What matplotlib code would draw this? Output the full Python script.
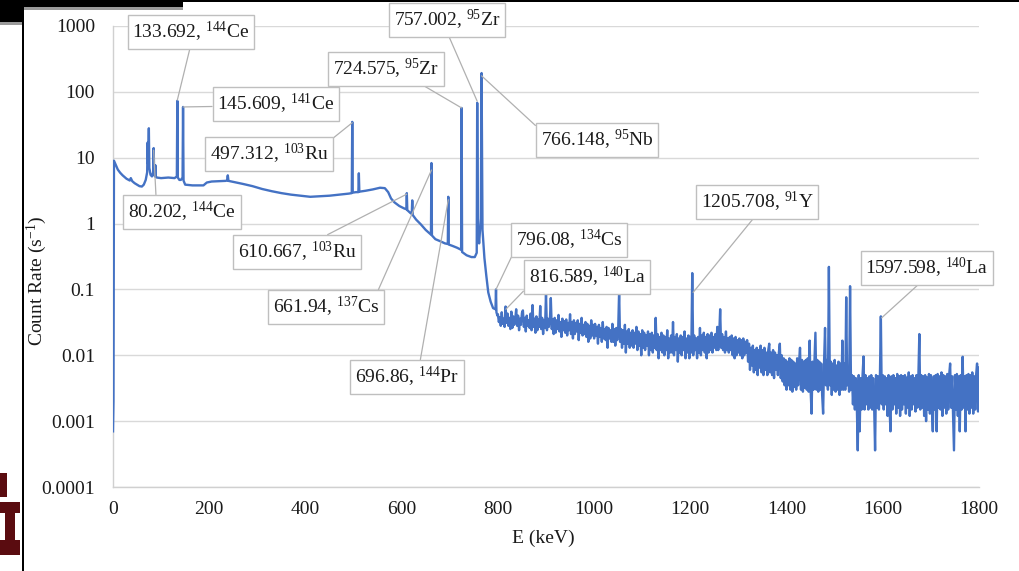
#!/usr/bin/env python3
"""Gamma spectrum (count rate vs energy) with labelled peaks, log y axis."""

import numpy as np
import matplotlib

matplotlib.use("Agg")
import matplotlib.pyplot as plt
from matplotlib.patches import Rectangle

# ---- data ----------------------------------------------------------------
# 0-800 keV: smooth continuum with narrow peaks (keV, counts/s)
low_energy = [0, 1, 2, 5, 10, 15, 20, 28, 35, 37, 40, 45, 50, 55, 60, 64, 68,
              71, 72, 73, 74.5, 75.5, 78, 81, 83.5, 84.5, 85.5, 87.2, 88, 88.8,
              91, 100, 115, 128, 132.7, 133.7, 134.7, 138, 141, 144.6, 145.6,
              146.6, 150, 165, 180, 188, 195, 205, 220, 234, 237, 238.6, 240,
              250, 270, 290, 310, 330, 350, 370, 390, 410, 430, 450, 470, 490,
              496.3, 497.3, 498.3, 505, 510, 511, 512, 525, 540, 555, 565, 572,
              578, 585, 595, 605, 609.7, 610.7, 611.7, 618, 621, 622, 623, 630,
              640, 650, 660.9, 661.9, 662.9, 670, 680, 690, 695.9, 696.9, 697.9,
              705, 715, 723.6, 724.6, 725.6, 735, 745, 752, 756, 757, 758.5,
              761, 764.5, 766.1, 768, 772, 776, 780, 785, 790, 795, 796.1, 797,
              799]
low_rate = [0.0007, 0.002, 9.0, 8.0, 6.6, 5.9, 5.4, 4.8, 4.5, 4.9, 4.4, 4.1,
            3.9, 3.7, 3.65, 3.9, 4.6,
            6.0, 17, 8, 28, 7, 5.5, 5.2, 6, 14, 6, 5.2, 7.7, 5.2,
            5.0, 4.9, 5.0, 4.9, 5.2, 73, 5, 4.6, 4.6, 5, 59,
            4.5, 3.9, 3.8, 3.8, 3.8, 4.2, 4.35, 4.4, 4.45, 4.5, 5.4, 4.45,
            4.3, 4.0, 3.7, 3.35, 3.1, 2.9, 2.75, 2.65, 2.55, 2.6, 2.65, 2.75, 2.85,
            2.9, 35, 2.95, 3.0, 3.0, 5.8, 3.05, 3.15, 3.3, 3.5, 3.45, 3.0,
            2.4, 2.1, 1.85, 1.7, 1.65, 2.9, 1.6, 1.45, 1.4, 2.25, 1.35, 1.15,
            0.97, 0.8, 0.68, 8.3, 0.66, 0.58, 0.54, 0.5, 0.49, 2.55, 0.48,
            0.46, 0.43, 0.4, 57, 0.37, 0.33, 0.31, 0.31, 0.36, 68, 0.9,
            0.5, 1.2, 193, 0.8, 0.3, 0.16, 0.09, 0.065, 0.052, 0.05, 0.10, 0.045,
            0.04]

# 800-1800 keV: noisy part, one value every 2 keV (20 values per row = 40 keV)
high_energy = np.arange(800, 1801, 2)
high_rate = [
    0.042, 0.032, 0.038, 0.028, 0.045, 0.030, 0.036, 0.027, 0.055, 0.031,
    0.043, 0.028, 0.037, 0.025, 0.046, 0.026, 0.039, 0.029, 0.035, 0.050,   # 800
    0.028, 0.040, 0.024, 0.036, 0.029, 0.044, 0.048, 0.027, 0.037, 0.023,
    0.040, 0.028, 0.034, 0.026, 0.043, 0.024, 0.058, 0.027, 0.036, 0.022,   # 840
    0.039, 0.024, 0.035, 0.027, 0.056, 0.025, 0.037, 0.021, 0.034, 0.026,
    0.085, 0.024, 0.036, 0.027, 0.033, 0.074, 0.025, 0.035, 0.021, 0.037,   # 880
    0.022, 0.034, 0.025, 0.041, 0.023, 0.032, 0.019, 0.036, 0.024, 0.033,
    0.022, 0.035, 0.020, 0.031, 0.024, 0.042, 0.021, 0.032, 0.018, 0.034,   # 920
    0.021, 0.031, 0.023, 0.034, 0.017, 0.030, 0.022, 0.037, 0.020, 0.029,
    0.021, 0.032, 0.019, 0.030, 0.016, 0.028, 0.018, 0.034, 0.020, 0.029,   # 960
    0.018, 0.030, 0.020, 0.027, 0.015, 0.029, 0.019, 0.026, 0.016, 0.032,
    0.018, 0.025, 0.017, 0.027, 0.013, 0.026, 0.018, 0.024, 0.016, 0.030,   # 1000
    0.016, 0.025, 0.014, 0.026, 0.017, 0.024, 0.094, 0.016, 0.025, 0.013,
    0.024, 0.015, 0.029, 0.011, 0.023, 0.015, 0.025, 0.013, 0.022, 0.014,   # 1040
    0.024, 0.013, 0.022, 0.015, 0.027, 0.012, 0.023, 0.014, 0.021, 0.010,
    0.024, 0.013, 0.022, 0.012, 0.020, 0.014, 0.023, 0.010, 0.021, 0.012,   # 1080
    0.022, 0.011, 0.020, 0.013, 0.037, 0.012, 0.021, 0.009, 0.019, 0.012,
    0.022, 0.011, 0.020, 0.010, 0.019, 0.012, 0.024, 0.009, 0.018, 0.011,   # 1120
    0.020, 0.011, 0.032, 0.010, 0.019, 0.012, 0.021, 0.008, 0.018, 0.011,
    0.020, 0.010, 0.019, 0.012, 0.023, 0.009, 0.018, 0.011, 0.020, 0.009,   # 1160
    0.019, 0.011, 0.177, 0.010, 0.020, 0.012, 0.018, 0.009, 0.019, 0.011,
    0.026, 0.010, 0.020, 0.012, 0.022, 0.011, 0.019, 0.009, 0.021, 0.011,   # 1200
    0.020, 0.012, 0.022, 0.011, 0.019, 0.013, 0.021, 0.012, 0.027, 0.012,
    0.020, 0.050, 0.013, 0.021, 0.012, 0.019, 0.011, 0.023, 0.012, 0.018,   # 1240
    0.011, 0.019, 0.012, 0.020, 0.010, 0.018, 0.009, 0.019, 0.010, 0.017,
    0.011, 0.018, 0.010, 0.017, 0.009, 0.018, 0.010, 0.016, 0.011, 0.017,   # 1280
    0.008, 0.015, 0.006, 0.013, 0.007, 0.014, 0.0055, 0.012, 0.006, 0.013,
    0.005, 0.012, 0.0065, 0.014, 0.0055, 0.012, 0.005, 0.013, 0.006, 0.011,  # 1320
    0.005, 0.012, 0.015, 0.0055, 0.011, 0.005, 0.012, 0.0045, 0.011, 0.006,
    0.010, 0.005, 0.011, 0.015, 0.0045, 0.010, 0.004, 0.009, 0.0035, 0.0085,  # 1360
    0.003, 0.008, 0.0035, 0.009, 0.003, 0.0085, 0.0028, 0.008, 0.0033, 0.0075,
    0.003, 0.009, 0.0035, 0.008, 0.013, 0.003, 0.0085, 0.0028, 0.008, 0.0032,  # 1400
    0.0085, 0.003, 0.009, 0.0028, 0.0167, 0.003, 0.0013, 0.008, 0.003, 0.0085,
    0.022, 0.003, 0.0085, 0.0028, 0.008, 0.003, 0.0075, 0.0025, 0.0013, 0.008,  # 1440
    0.026, 0.0035, 0.0085, 0.003, 0.22, 0.0035, 0.008, 0.0025, 0.0075, 0.003,
    0.0085, 0.0028, 0.007, 0.003, 0.008, 0.0025, 0.0075, 0.003, 0.0167, 0.003,  # 1480
    0.0075, 0.003, 0.076, 0.0035, 0.0065, 0.0028, 0.112, 0.003, 0.005, 0.0018,
    0.0048, 0.0015, 0.0045, 0.0018, 0.00036, 0.005, 0.0007, 0.0045, 0.0015, 0.005,  # 1520
    0.0096, 0.0015, 0.005, 0.0018, 0.0045, 0.0015, 0.0048, 0.0016, 0.005, 0.0015,
    0.0045, 0.0018, 0.00036, 0.005, 0.0016, 0.0048, 0.0015, 0.0045, 0.039, 0.0018,  # 1560
    0.005, 0.0015, 0.0048, 0.0018, 0.0045, 0.0012, 0.005, 0.0016, 0.0007, 0.0048,
    0.0015, 0.005, 0.0018, 0.0045, 0.0013, 0.0052, 0.0016, 0.0048, 0.0012, 0.005,  # 1600
    0.0015, 0.0048, 0.0018, 0.005, 0.0013, 0.0046, 0.0016, 0.0055, 0.0012, 0.0048,
    0.0015, 0.005, 0.0018, 0.0045, 0.0014, 0.005, 0.0016, 0.0048, 0.021, 0.0015,  # 1640
    0.005, 0.0016, 0.0048, 0.0012, 0.005, 0.001, 0.0046, 0.0015, 0.0052, 0.0013,
    0.005, 0.0016, 0.0007, 0.0048, 0.0015, 0.005, 0.0007, 0.0052, 0.0016, 0.0048,  # 1680
    0.0015, 0.0055, 0.0012, 0.005, 0.0016, 0.0048, 0.0013, 0.0052, 0.0015, 0.005,
    0.0075, 0.0016, 0.0048, 0.0013, 0.00036, 0.005, 0.0015, 0.0052, 0.0012, 0.0048,  # 1720
    0.0007, 0.005, 0.0015, 0.0095, 0.0016, 0.0048, 0.0007, 0.005, 0.0015, 0.0052,
    0.0013, 0.005, 0.0016, 0.0055, 0.0013, 0.0048, 0.0015, 0.005, 0.0075, 0.0014,  # 1760
    0.0065,                                                                  # 1800
]

x_ticks = [0, 200, 400, 600, 800, 1000, 1200, 1400, 1600, 1800]
y_ticks = [1e-4, 1e-3, 1e-2, 1e-1, 1, 10, 100, 1000]
y_tick_labels = ["0.0001", "0.001", "0.01", "0.1", "1", "10", "100", "1000"]

# labelled peaks: (energy label, nuclide mass, element, energy/rate where leader ends)
peak_labels = [
    ("133.692", "144", "Ce", 133.692, 75),
    ("145.609", "141", "Ce", 145.609, 59),
    ("497.312", "103", "Ru", 497.312, 34),
    ("80.202", "144", "Ce", 84.5, 13),
    ("610.667", "103", "Ru", 610.667, 2.8),
    ("661.94", "137", "Cs", 661.94, 6.5),
    ("696.86", "144", "Pr", 696.86, 2.3),
    ("724.575", "95", "Zr", 724.575, 57),
    ("757.002", "95", "Zr", 757.002, 72),
    ("766.148", "95", "Nb", 766.148, 175),
    ("796.08", "134", "Cs", 796.08, 0.1),
    ("816.589", "140", "La", 816.589, 0.05),
    ("1205.708", "91", "Y", 1205.708, 0.09),
    ("1597.598", "140", "La", 1597.598, 0.037),
]

# ---- layout (pixels from the top-left of the 1019x571 image) -------------
W, H = 1019, 571
# label box centres and where the leader leaves the box (relpos)
label_pos = [
    ((191, 32), (0.5, 0.0)),
    ((276, 104), (0.0, 0.4)),
    ((269, 154), (1.0, 1.0)),
    ((182, 212), (0.26, 1.0)),
    ((297, 252), (0.67, 1.0)),
    ((326, 307), (0.97, 1.0)),
    ((407, 377), (0.62, 1.0)),
    ((386, 69), (0.78, 0.0)),
    ((447, 20), (0.5, 0.0)),
    ((597, 140), (0.0, 0.9)),
    ((569, 240), (0.0, 0.17)),
    ((587, 277), (0.0, 0.14)),
    ((757, 202), (0.5, 0.0)),
    ((927, 268), (0.47, 0.0)),
]

assert len(low_energy) == len(low_rate)
assert len(high_energy) == len(high_rate)

plt.rcParams["font.family"] = ["Liberation Serif", "DejaVu Serif"]
plt.rcParams["mathtext.fontset"] = "custom"
plt.rcParams["mathtext.rm"] = "Liberation Serif"
plt.rcParams["mathtext.it"] = "Liberation Serif:italic"

FS = 14
TEXT = "#1a1a1a"

fig = plt.figure(figsize=(W / 100, H / 100), dpi=100)
ax = fig.add_axes([113 / W, 1 - 487 / H, (979 - 113) / W, (487 - 26) / H])

energy = np.concatenate([low_energy, high_energy])
rate = np.concatenate([low_rate, high_rate])
ax.plot(energy, rate, color="#4472C4", linewidth=1.7, zorder=3)

ax.set_yscale("log")
ax.set_xlim(0, 1800)
ax.set_ylim(1e-4, 1000)
ax.set_xticks(x_ticks)
ax.set_xticklabels([str(t) for t in x_ticks])
ax.set_yticks(y_ticks)
ax.set_yticklabels(y_tick_labels)
ax.yaxis.set_minor_locator(matplotlib.ticker.NullLocator())
ax.tick_params(axis="both", length=0, labelsize=FS, labelcolor=TEXT)
ax.tick_params(axis="y", pad=13)
ax.tick_params(axis="x", pad=10)
ax.grid(True, axis="y", color="#d9d9d9", linewidth=1.0)
ax.set_axisbelow(True)
for side in ("top", "right"):
    ax.spines[side].set_visible(False)
for side in ("left", "bottom"):
    ax.spines[side].set_color("#d0d0d0")
    ax.spines[side].set_linewidth(1.0)

ax.set_xlabel("E (keV)", fontsize=FS, color=TEXT)
ax.set_ylabel(r"Count Rate (s$\mathregular{^{-1}}$)", fontsize=FS, color=TEXT)
ax.xaxis.set_label_coords((543 - 113) / (979 - 113), 1 - (538 - 26) / (487 - 26))
ax.yaxis.set_label_coords((37 - 113) / (979 - 113), 1 - (281 - 26) / (487 - 26))
ax.xaxis.label.set_va("center")
ax.yaxis.label.set_va("center")

for (num, mass, elem, e, r), ((cx, cy), rel) in zip(peak_labels, label_pos):
    ax.annotate(
        f"{num}, $\\mathregular{{^{{{mass}}}}}${elem}",
        xy=(e, r),
        xycoords="data",
        xytext=(cx, H - cy),
        textcoords="figure pixels",
        ha="center",
        va="center",
        fontsize=FS,
        color=TEXT,
        bbox=dict(boxstyle="square,pad=0.25", facecolor="white", edgecolor="#bfbfbf", linewidth=1.0),
        arrowprops=dict(arrowstyle="-", color="#b0b0b0", linewidth=0.9,
                        shrinkA=0, shrinkB=0, relpos=rel),
        zorder=5,
    )


# ---- screenshot frame remnants ------------------------------------------
def px_rect(x0, y0, x1, y1, color):
    fig.add_artist(Rectangle((x0 / W, 1 - y1 / H), (x1 - x0) / W, (y1 - y0) / H,
                             transform=fig.transFigure, facecolor=color,
                             edgecolor="none", zorder=10))


px_rect(0, 0, 183, 7, "black")
px_rect(0, 0, 22, 22, "black")
px_rect(22, 7, 183, 10, "#9a9a9a")
px_rect(0, 22, 22, 25, "#9a9a9a")
px_rect(183, 0, W, 2, "black")
px_rect(21.5, 0, 23.5, H, "black")
# logo fragment at bottom-left
px_rect(0, 473, 7, 497, "#5a0c10")
px_rect(0, 502, 20, 513, "#5a0c10")
px_rect(5, 513, 15, 540, "#5a0c10")
px_rect(0, 540, 20, 555, "#5a0c10")

fig.savefig("out.png", dpi=100)
